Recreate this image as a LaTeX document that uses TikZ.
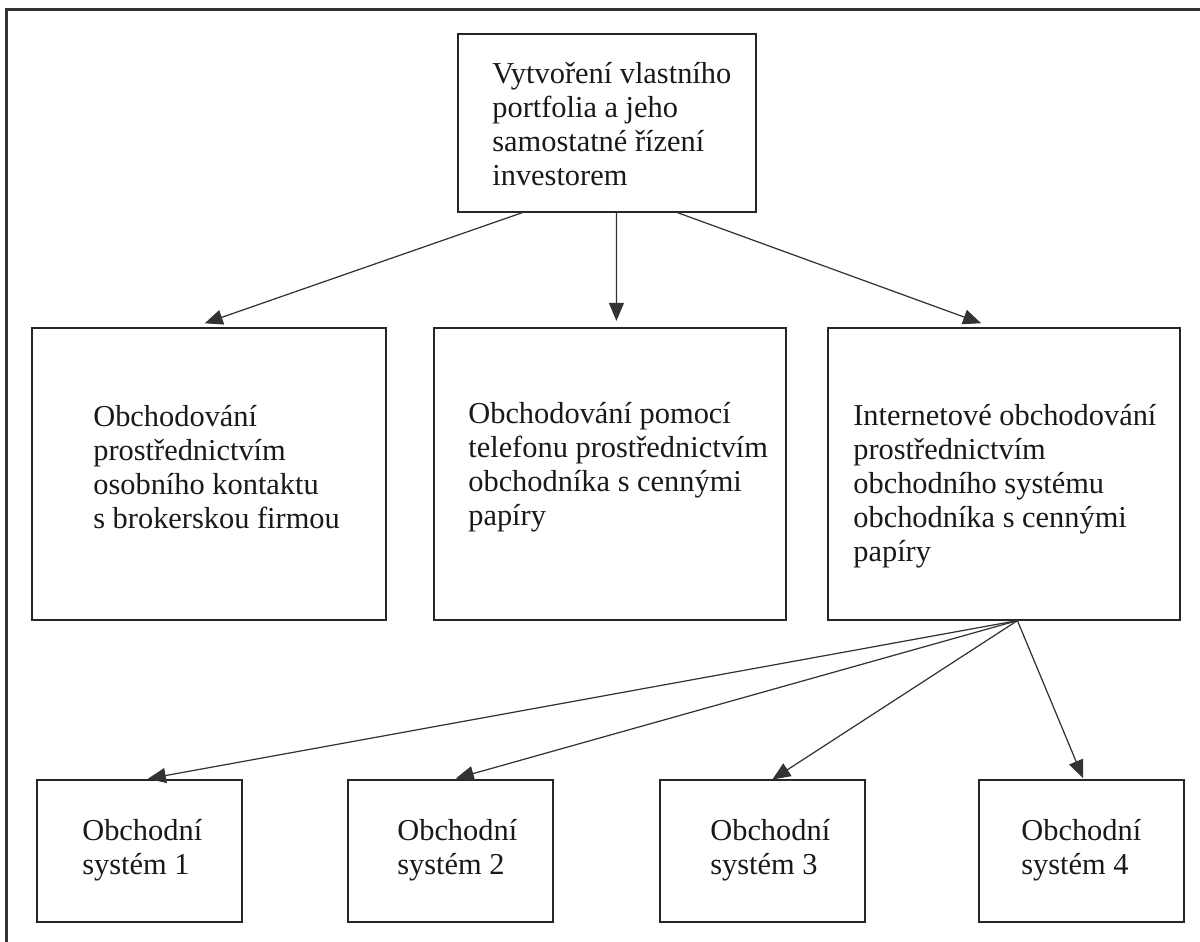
\documentclass[tikz,border=0pt]{standalone}
\usepackage{fontspec}
\setmainfont{Liberation Serif}
\usetikzlibrary{arrows.meta,calc}
\begin{document}
\begin{tikzpicture}[x=0.02cm,y=-0.02cm,
  box/.style={draw=black!85, line width=0.7pt, inner sep=0pt},
  txt/.style={anchor=base west, align=left, inner sep=0pt, font=\fontsize{17.3}{19.3}\selectfont, text=black!90},
  conn/.style={draw=black!80, line width=0.7pt, -{Triangle[length=0.36cm,width=0.3cm]}, shorten >=2pt},
  frame/.style={draw=black!80, line width=1.2pt}]
\useasboundingbox (0,0) rectangle (1200,941);
\clip (0,0) rectangle (1200,941);
\draw[frame] (6.5,1000) -- (6.5,9.5) -- (1250,9.5);
% boxes
\node[box, minimum width=5.96cm, minimum height=3.56cm] (top) at (607,123) {};
\node[box, minimum width=7.08cm, minimum height=5.84cm] (b1) at (209,474) {};
\node[box, minimum width=7.04cm, minimum height=5.84cm] (b2) at (610,474) {};
\node[box, minimum width=7.04cm, minimum height=5.84cm] (b3) at (1004,474) {};
\node[box, minimum width=4.1cm, minimum height=2.84cm] (c1) at (139.5,851) {};
\node[box, minimum width=4.1cm, minimum height=2.84cm] (c2) at (450.5,851) {};
\node[box, minimum width=4.1cm, minimum height=2.84cm] (c3) at (762.5,851) {};
\node[box, minimum width=4.1cm, minimum height=2.84cm] (c4) at (1081.5,851) {};
% texts (anchored at the baseline of the last line)
\node[txt] (ttop) at (492,185) {Vytvoření vlastního\\portfolia a jeho\\samostatné řízení\\investorem};
\node[txt] (tb1) at (93,528) {Obchodování\\prostřednictvím\\osobního kontaktu\\s brokerskou firmou};
\node[txt] (tb2) at (468,525) {Obchodování pomocí\\telefonu prostřednictvím\\obchodníka s cennými\\papíry};
\node[txt] (tb3) at (853,561) {Internetové obchodování\\prostřednictvím\\obchodního systému\\obchodníka s cennými\\papíry};
\node[txt] (tc1) at (82,874) {Obchodní\\systém 1};
\node[txt] (tc2) at (397,874) {Obchodní\\systém 2};
\node[txt] (tc3) at (710,874) {Obchodní\\systém 3};
\node[txt] (tc4) at (1021,874) {Obchodní\\systém 4};
% connector end points
\coordinate (s1) at ($(top.south west)+(65,0)$);
\coordinate (s2) at ($(top.south west)+(159,0)$);
\coordinate (s3) at ($(top.south west)+(220,0)$);
\coordinate (e1) at ($(b1.north west)+(170,-3)$);
\coordinate (e2) at ($(b2.north west)+(183,-3)$);
\coordinate (e3) at ($(b3.north west)+(157,-3)$);
\coordinate (s4) at ($(b3.south west)+(190,0)$);
\coordinate (f1) at ($(c1.north west)+(108,0)$);
\coordinate (f2) at ($(c2.north west)+(105,0)$);
\coordinate (f3) at ($(c3.north west)+(110,2)$);
\coordinate (f4) at ($(c4.north west)+(106,2)$);
\draw[conn] (s1) -- (e1);
\draw[conn] (s2) -- (e2);
\draw[conn] (s3) -- (e3);
\draw[conn] (s4) -- (f1);
\draw[conn] (s4) -- (f2);
\draw[conn] (s4) -- (f3);
\draw[conn] (s4) -- (f4);
\end{tikzpicture}
\end{document}
